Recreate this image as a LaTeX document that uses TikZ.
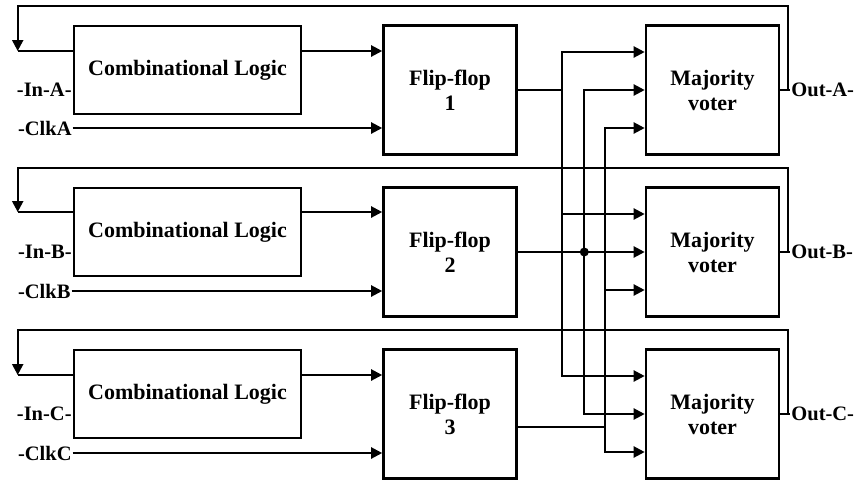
\documentclass[tikz,border=0pt]{standalone}
\usepackage{fontspec}
\setmainfont{Liberation Serif}
\usepackage{tikz}
\usetikzlibrary{positioning, arrows.meta}

\tikzset{
  blk/.style={draw, line width=2.6pt, inner sep=0pt, align=center, font=\fontsize{22}{25}\selectfont\bfseries},
  comb/.style={blk, minimum width=227pt, minimum height=88pt},
  ff/.style={blk, minimum width=133pt, minimum height=129pt},
  lbl/.style={inner sep=0pt, font=\fontsize{20.5}{22}\selectfont\bfseries},
}

\begin{document}
\begin{tikzpicture}[x=1pt, y=-1pt, node distance=262.5pt, line width=2.2pt, >={Triangle[length=11pt,width=11pt]}]
  \useasboundingbox (0,0) rectangle (858,480);

  % three identical channels
  \node[comb] (combA) at (187.5,70) {Combinational Logic};
  \node[ff, right of=combA, yshift=-20pt] (ffA) {Flip-flop\\1};
  \node[ff, right of=ffA] (votA) {Majority\\voter};

  \node[comb] (combB) at (187.5,232) {Combinational Logic};
  \node[ff, right of=combB, yshift=-20pt] (ffB) {Flip-flop\\2};
  \node[ff, right of=ffB] (votB) {Majority\\voter};

  \node[comb] (combC) at (187.5,394) {Combinational Logic};
  \node[ff, right of=combC, yshift=-20pt] (ffC) {Flip-flop\\3};
  \node[ff, right of=ffC] (votC) {Majority\\voter};

  % inputs, clocks, outputs
  \node[lbl, anchor=east] (inA) at ([yshift=-20pt]combA.west) {-In-A-};
  \node[lbl, anchor=east] (inB) at ([yshift=-20pt]combB.west) {-In-B-};
  \node[lbl, anchor=east] (inC) at ([yshift=-20pt]combC.west) {-In-C-};
  \node[lbl, anchor=west] (clkA) at (17,128) {-ClkA};
  \node[lbl, anchor=west] (clkB) at (17,291) {-ClkB};
  \node[lbl, anchor=west] (clkC) at (17,453) {-ClkC};
  \node[lbl, anchor=west] (outA) at ([xshift=10pt]votA.east) {Out-A-};
  \node[lbl, anchor=west] (outB) at ([xshift=10pt]votB.east) {Out-B-};
  \node[lbl, anchor=west] (outC) at ([xshift=10pt]votC.east) {Out-C-};

  \draw[->] (clkA) -- (clkA -| ffA.west);
  \draw[->] (clkB) -- (clkB -| ffB.west);
  \draw[->] (clkC) -- (clkC -| ffC.west);

  % feedback corners
  \coordinate (fA) at ([xshift=-55pt,yshift=19pt]combA.west);
  \coordinate (fB) at ([xshift=-55pt,yshift=20pt]combB.west);
  \coordinate (fC) at ([xshift=-55pt,yshift=19pt]combC.west);
  \coordinate (tA) at ([xshift=8pt]votA.east);
  \coordinate (tB) at ([xshift=8pt]votB.east);
  \coordinate (tC) at ([xshift=8pt]votC.east);

  \draw[->] ([yshift=19pt]combA.east) -- (ffA.west |- fA);
  \draw[->] ([yshift=20pt]combB.east) -- (ffB.west |- fB);
  \draw[->] ([yshift=19pt]combC.east) -- (ffC.west |- fC);
  \draw (fA -| combA.west) -- (fA);
  \draw (fB -| combB.west) -- (fB);
  \draw (fC -| combC.west) -- (fC);

  \draw (votA.east) -- (outA.west);
  \draw (votB.east) -- (outB.west);
  \draw (votC.east) -- (outC.west);
  \draw[->] (tA) |- ([yshift=18pt]votA.north) -| (fA);
  \draw[->] (tB) |- ([yshift=18pt]votB.north) -| (fB);
  \draw[->] (tC) |- ([yshift=18pt]votC.north) -| (fC);

  % fan-out of the flip-flops to the voters
  \coordinate[right=44.5pt of ffA.east] (jA);
  \coordinate[right=66.5pt of ffB.east] (jB);
  \coordinate[below right=13pt and 87.5pt of ffC.east] (jC);

  \draw (ffA.east) -- (jA);
  \draw[->] (jA) |- ([yshift=38pt]votA.west);
  \draw[->] (jA) |- ([yshift=38pt]votB.west);
  \draw[->] (jA) |- ([yshift=38pt]votC.west);

  \draw (ffB.east) -- (jB);
  \draw[->] (jB) |- (votA.west);
  \draw[->] (jB) -- (votB.west);
  \draw[->] (jB) |- (votC.west);
  \fill (jB) circle (4.5pt);

  \draw (jC -| ffC.east) -- (jC);
  \draw[->] (jC) |- ([yshift=-38pt]votA.west);
  \draw[->] (jC) |- ([yshift=-38pt]votB.west);
  \draw[->] (jC) |- ([yshift=-38pt]votC.west);
\end{tikzpicture}
\end{document}
